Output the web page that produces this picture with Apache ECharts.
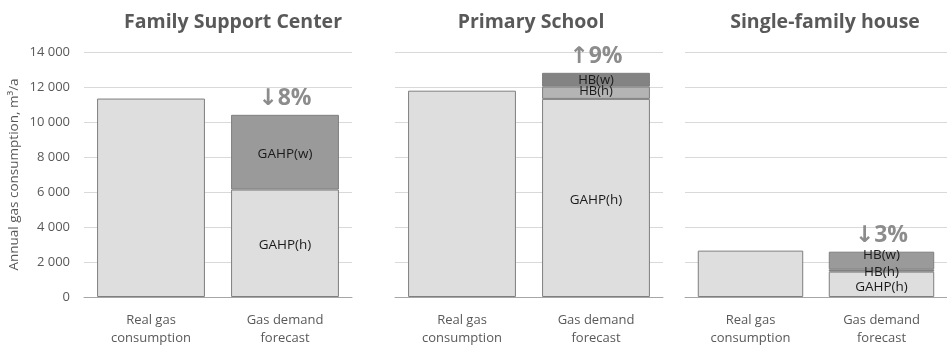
<!DOCTYPE html>
<html>
<head>
<meta charset="utf-8">
<script src="https://cdn.jsdelivr.net/npm/echarts@6/dist/echarts.min.js"></script>
<style>
  html, body { margin: 0; padding: 0; background: #fff; }
  #chart { width: 947px; height: 347px; }
</style>
</head>
<body>
<div id="chart"></div>
<script>
// Annual gas consumption (m³/a): measured vs. forecast, three buildings
const panelTitles = ['Family Support Center', 'Primary School', 'Single-family house'];
const categories = ['Real gas\nconsumption', 'Gas demand\nforecast'];
const yTicks = [0, 2000, 4000, 6000, 8000, 10000, 12000, 14000];

// Real consumption per building
const realGas = [11340, 11790, 2650];

// Forecast components per building
const fscSegments = [
  { name: 'GAHP(h)', value: 6140 },
  { name: 'GAHP(w)', value: 4270 }
];
const schoolSegments = [
  { name: 'GAHP(h)', value: 11320 },
  { name: 'HB(h)', value: 700 },
  { name: 'HB(w)', value: 790 }
];
const houseSegments = [
  { name: 'GAHP(h)', value: 1450 },
  { name: 'HB(h)', value: 130 },
  { name: 'HB(w)', value: 1010 }
];
const changeLabels = ['↓8%', '↑9%', '↓3%'];

const segmentColors = {
  'GAHP(h)': '#dedede',
  'GAHP(w)': '#9a9a9a',
  'HB(h)': '#b4b4b4',
  'HB(w)': '#838383'
};
const houseColors = {
  'GAHP(h)': '#dedede',
  'HB(h)': '#858585',
  'HB(w)': '#9a9a9a'
};

const gridDefs = [
  { left: 84, width: 268, top: 52, bottom: 48 },
  { left: 395, width: 268, top: 52, bottom: 48 },
  { left: 685, width: 268, top: 52, bottom: 48 }
];
// horizontal centres of the panel headings
const titleCenters = [228, 526, 820];

const textGray = '#595959';
const fontFam = '"Open Sans", "Noto Sans", "DejaVu Sans", sans-serif';

const xAxes = gridDefs.map((g, i) => ({
  type: 'category', gridIndex: i, data: categories,
  axisTick: { show: false },
  axisLine: { lineStyle: { color: '#a6a6a6', width: 1 } },
  axisLabel: { color: textGray, fontSize: 13, fontFamily: fontFam, lineHeight: 18, margin: 14 }
}));
const yAxes = gridDefs.map((g, i) => ({
  type: 'value', gridIndex: i, min: yTicks[0], max: yTicks[yTicks.length - 1],
  interval: yTicks[1] - yTicks[0],
  splitLine: { lineStyle: { color: '#d9d9d9' } },
  axisLine: { show: false }, axisTick: { show: false },
  axisLabel: {
    show: i === 0, color: textGray, fontSize: 13, fontFamily: fontFam, margin: 14,
    formatter: v => String(v).replace(/\B(?=(\d{3})+(?!\d))/g, ' ')
  },
  name: i === 0 ? 'Annual gas consumption, m³/a' : '',
  nameLocation: 'middle', nameGap: 63, nameRotate: 90,
  nameTextStyle: { color: textGray, fontSize: 13.5, fontFamily: fontFam }
}));

const borderStyle = { borderColor: '#7f7f7f', borderWidth: 1 };
const series = [];

function addPanel(idx, segments, colors, labelOffsets) {
  const stack = 'p' + idx;
  segments.forEach((seg, k) => {
    const isTop = k === segments.length - 1;
    const data = [
      k === 0 ? { value: realGas[idx], label: { show: false } } : '-',
      {
        value: seg.value,
        label: {
          show: true, position: 'inside', formatter: seg.name,
          color: '#1a1a1a', fontSize: segments.length > 2 && idx === 1 && k > 0 ? 13 : 13.5,
          fontFamily: fontFam,
          offset: labelOffsets ? labelOffsets[k] : [0, 0]
        }
      }
    ];
    series.push({
      type: 'bar', name: seg.name, stack: stack,
      xAxisIndex: idx, yAxisIndex: idx,
      barWidth: '80.5%',
      itemStyle: Object.assign({ color: colors[seg.name] }, borderStyle),
      data: data,
      silent: true
    });
    if (isTop) {
      // change vs. real consumption, placed above the forecast stack
      series.push({
        type: 'bar', stack: stack, xAxisIndex: idx, yAxisIndex: idx,
        barWidth: '80.5%', itemStyle: { color: 'transparent' },
        data: ['-', {
          value: 0,
          label: {
            show: true, position: 'top', distance: 5, formatter: changeLabels[idx],
            color: '#8c8c8c', fontSize: 23, fontWeight: 'bold', fontFamily: fontFam
          }
        }],
        silent: true
      });
    }
  });
}

addPanel(0, fscSegments, segmentColors, [[0, 2], [0, 2]]);
addPanel(1, schoolSegments, segmentColors, [[0, 2], [0, -1], [0, 1]]);
addPanel(2, houseSegments, houseColors, [[0, 3], [0, 2], [0, -5]]);

const titles = panelTitles.map((t, i) => ({
  text: t,
  left: titleCenters[i],
  top: 7,
  textAlign: 'center',
  textStyle: { color: textGray, fontSize: 19.5, fontWeight: 'bold', fontFamily: fontFam }
}));

const chart = echarts.init(document.getElementById('chart'), null, { renderer: 'canvas' });
chart.setOption({
  animation: false,
  title: titles,
  grid: gridDefs,
  xAxis: xAxes,
  yAxis: yAxes,
  series: series
});
</script>
</body>
</html>
